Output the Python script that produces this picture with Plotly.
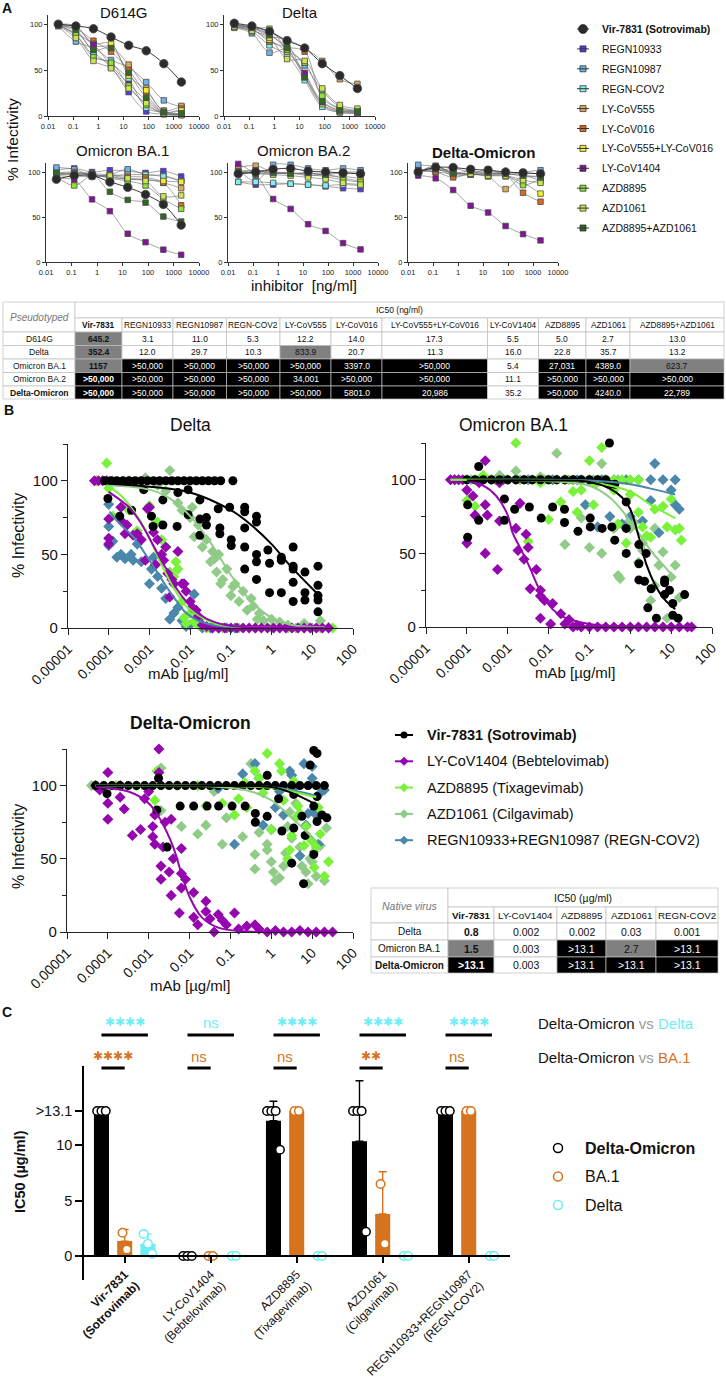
import numpy as np
import plotly.graph_objects as go

W, H = 726, 1387
SANS = "Liberation Sans, Arial, sans-serif"

# ---------------- panel A: pseudotyped virus, % infectivity ----------------
conc_ng = [0.0256, 0.128, 0.64, 3.2, 16, 80, 400, 2000]
a_names = ["Vir-7831 (Sotrovimab)", "REGN10933", "REGN10987", "REGN-COV2", "LY-CoV555",
           "LY-CoV016", "LY-CoV555+LY-CoV016", "LY-CoV1404", "AZD8895", "AZD1061",
           "AZD8895+AZD1061"]
a_colors = ["#2b2b2b", "#5438e4", "#70b2ee", "#7ff0ee", "#d9ab55", "#dc681f", "#f3ee2c",
            "#86119c", "#8be52c", "#cbe64c", "#2e6a1f"]
a_titles = ["D614G", "Delta", "Omicron BA.1", "Omicron BA.2", "<b>Delta-Omicron</b>"]

a_d614g = [[100, 98, 95, 86, 77, 71, 57, 37],
           [99, 92, 70, 53, 26, 5, 2, 1],
           [98, 81, 74, 61, 53, 37, 17, 10],
           [99, 88, 66, 57, 40, 9, 4, 2],
           [100, 98, 77, 75, 56, 30, 6, 11],
           [99, 95, 82, 70, 50, 24, 4, 8],
           [99, 97, 79, 79, 44, 28, 5, 6],
           [99, 90, 78, 55, 35, 17, 3, 2],
           [99, 88, 64, 58, 33, 12, 3, 2],
           [98, 85, 60, 52, 30, 14, 2, 1],
           [99, 94, 72, 74, 47, 20, 4, 3]]
a_delta = [[101, 98, 92, 82, 74, 57, 44, 30],
           [100, 97, 91, 79, 43, 12, 4, 3],
           [96, 90, 69, 73, 55, 28, 10, 6],
           [97, 92, 77, 66, 39, 10, 4, 3],
           [99, 96, 87, 83, 74, 60, 40, 35],
           [99, 95, 81, 75, 70, 20, 8, 5],
           [98, 94, 83, 70, 45, 13, 5, 4],
           [99, 96, 89, 72, 47, 15, 6, 4],
           [98, 95, 95, 72, 58, 22, 8, 6],
           [97, 93, 85, 62, 60, 30, 12, 8],
           [99, 96, 88, 74, 42, 16, 6, 5]]
a_ba1 = [[92, 96, 96, 89, 83, 75, 64, 41],
         [102, 104, 100, 102, 101, 99, 101, 95],
         [105, 103, 96, 97, 103, 97, 96, 90],
         [96, 95, 95, 96, 97, 97, 95, 90],
         [99, 100, 97, 95, 92, 92, 88, 82],
         [98, 99, 98, 97, 95, 94, 88, 63],
         [97, 98, 97, 94, 92, 91, 90, 89],
         [93, 91, 69.6, 56.5, 31.4, 22, 13.7, 8],
         [95, 85, 96, 93, 90, 85, 70, 59],
         [97, 97, 95, 96, 93, 90, 73, 74],
         [99, 98, 98, 78, 69, 66, 50.5, 45]]
a_ba2 = [[98, 100, 103, 104, 101, 100, 99, 98],
         [89, 86, 86, 87, 86, 84, 82, 81],
         [103, 90, 108, 108, 104, 102, 104, 102],
         [89, 89, 88, 87, 86, 85, 86, 85],
         [105, 107, 100, 99, 96, 97, 93, 90],
         [101, 102, 100, 99, 98, 98, 100, 100],
         [100, 101, 99, 98, 99, 96, 95, 93],
         [109, 97, 70, 59, 42, 34.5, 21, 14],
         [100, 99, 98, 99, 97, 95, 91, 89],
         [99, 98, 97, 96, 94, 92, 88, 86],
         [99, 100, 99, 98, 99, 97, 99, 98]]
a_delta_omicron = [[100, 105, 105, 103, 102, 100, 99, 98],
                   [104, 101, 104, 100, 100, 99, 99, 98],
                   [108, 106, 100, 98, 103, 97, 100, 102],
                   [101, 100, 98, 97, 98, 98, 96, 95],
                   [100, 104, 96, 97, 95, 81, 95, 90],
                   [102, 100, 94, 98, 97, 96, 77, 67],
                   [100, 103, 99, 98, 96, 95, 88, 76],
                   [96, 93, 80, 62.5, 55, 40, 31, 24],
                   [99, 107, 98, 99, 98, 97, 85.5, 93],
                   [100, 106, 99, 98, 96, 96, 91, 88],
                   [101, 104, 99, 101, 99, 98, 96, 94]]

# IC50 table (ng/ml)
ta_cols = ["Vir-7831", "REGN10933", "REGN10987", "REGN-COV2", "LY-CoV555", "LY-CoV016",
           "LY-CoV555+LY-CoV016", "LY-CoV1404", "AZD8895", "AZD1061", "AZD8895+AZD1061"]
ta_rows = ["D614G", "Delta", "Omicron BA.1", "Omicron BA.2", "Delta-Omicron"]
ta_vals = [["645.2", "3.1", "11.0", "5.3", "12.2", "14.0", "17.3", "5.5", "5.0", "2.7", "13.0"],
           ["352.4", "12.0", "29.7", "10.3", "833.9", "20.7", "11.3", "16.0", "22.8", "35.7", "13.2"],
           ["1157", ">50,000", ">50,000", ">50,000", ">50,000", "3397.0", ">50,000", "5.4", "27,031", "4389.0", "623.7"],
           [">50,000", ">50,000", ">50,000", ">50,000", "34,001", ">50,000", ">50,000", "11.1", ">50,000", ">50,000", ">50,000"],
           [">50,000", ">50,000", ">50,000", ">50,000", ">50,000", "5801.0", "20,986", "35.2", ">50,000", "4240.0", "22,789"]]

# ---------------- panel B: native virus, (log10 conc ug/ml, % infectivity) ----------------
b_names = ["Vir-7831 (Sotrovimab)", "LY-CoV1404 (Bebtelovimab)", "AZD8895 (Tixagevimab)",
           "AZD1061 (Cilgavimab)", "REGN10933+REGN10987 (REGN-COV2)"]
b_colors = ["#000000", "#9406ae", "#79f23a", "#90cb88", "#4a87ab"]

bd_vir = [(-4.1, 100), (-3.95, 100), (-3.8, 100), (-3.65, 100), (-3.5, 100), (-3.35, 100), (-3.2, 100),
          (-3.05, 100), (-2.9, 100), (-2.75, 100), (-2.6, 100), (-2.45, 100), (-2.3, 100), (-2.15, 100),
          (-2.0, 100), (-1.85, 100), (-1.7, 100), (-1.55, 100), (-1.4, 100), (-1.25, 100), (-0.95, 100),
          (-4.02, 88), (-3.73, 76), (-3.44, 80), (-3.14, 94), (-2.95, 76), (-2.91, 69), (-2.67, 70),
          (-2.67, 87), (-2.32, 69), (-2.3, 92), (-2.05, 94), (-2.05, 77), (-1.76, 87), (-1.76, 74),
          (-1.76, 63), (-1.6, 75), (-1.6, 70), (-1.31, 81), (-1.27, 68), (-1.27, 64), (-1.03, 82),
          (-0.99, 56), (-0.99, 60), (-0.66, 82), (-0.66, 79), (-0.66, 68), (-0.66, 55), (-0.66, 40),
          (-0.37, 76), (-0.37, 72), (-0.37, 50), (-0.37, 45), (-0.37, 33), (-0.09, 53), (-0.05, 44),
          (-0.05, 24), (0.24, 48), (0.24, 46), (0.24, 24), (0.53, 55), (0.53, 42), (0.53, 40),
          (0.53, 31), (0.53, 18), (0.82, 38), (0.82, 19), (0.82, 24), (1.14, 42), (1.14, 29),
          (1.14, 22), (1.14, 19), (1.14, 11)]
bd_1404 = [(-4.35, 100), (-4.25, 100), (-4.15, 100), (-4.05, 100), (-4.0, 61), (-4.0, 57), (-4.0, 74),
           (-3.7, 73), (-3.7, 82), (-3.6, 64), (-3.55, 70), (-3.4, 63), (-3.3, 64), (-3.2, 60),
           (-3.1, 46), (-3.05, 81), (-3.0, 82), (-2.9, 65), (-2.85, 43), (-2.8, 60), (-2.7, 50),
           (-2.65, 46), (-2.6, 55), (-2.55, 37), (-2.5, 21), (-2.45, 33), (-2.4, 30), (-2.3, 52),
           (-2.2, 30), (-2.15, 30), (-2.1, 25), (-2.0, 18), (-1.95, 14), (-1.85, 12), (-1.8, 8),
           (-1.7, 2), (-1.6, 1), (-1.45, 0), (-1.3, 0), (-1.15, 0), (-1.0, 0), (-0.85, 0), (-0.7, 0),
           (-0.55, 0), (-0.4, 0), (-0.25, 0), (-0.1, 0), (0.05, 0), (0.2, 0), (0.35, 0), (0.5, 0),
           (0.65, 0), (0.8, 0), (0.95, 0), (1.1, 0), (1.25, 0), (1.4, 0)]
bd_8895 = [(-4.3, 100), (-4.05, 112), (-4.0, 95), (-3.9, 76), (-3.7, 82), (-3.5, 80), (-3.3, 66),
           (-3.0, 83), (-2.9, 70), (-2.8, 72), (-2.7, 60), (-2.6, 55), (-2.5, 38), (-2.4, 35),
           (-2.35, 45), (-2.3, 40), (-2.2, 18), (-2.15, 7), (-2.1, 3), (-2.0, 10), (-1.9, 4),
           (-1.8, 2), (-1.6, 0), (-1.2, 0), (-0.8, 0), (-0.4, 0), (0.0, 0), (0.4, 0), (0.8, 0),
           (1.2, 0), (1.5, 0)]
bd_1061 = [(-4.3, 100), (-3.9, 100), (-3.5, 100), (-3.1, 102), (-2.8, 97), (-2.6, 93), (-2.5, 107),
           (-2.3, 85), (-2.2, 80), (-2.0, 75), (-1.95, 82), (-1.9, 62), (-1.8, 70), (-1.7, 55),
           (-1.6, 60), (-1.5, 45), (-1.45, 52), (-1.4, 47), (-1.35, 38), (-1.3, 50), (-1.25, 30),
           (-1.2, 33), (-1.1, 40), (-1.0, 22), (-0.95, 28), (-0.9, 30), (-0.8, 18), (-0.7, 25),
           (-0.6, 12), (-0.5, 20), (-0.45, 15), (-0.35, 6), (-0.3, 10), (-0.2, 5), (0.0, 6),
           (0.2, 4), (0.4, 2), (0.6, 0), (0.8, 3), (1.0, 0), (1.2, 5), (1.4, 0.5)]
bd_regn = [(-4.0, 84), (-4.0, 69), (-4.0, 56), (-3.9, 59), (-3.8, 48), (-3.7, 50), (-3.6, 47),
           (-3.45, 50), (-3.4, 46), (-3.3, 57), (-3.2, 45), (-3.0, 30), (-2.95, 40), (-2.9, 48),
           (-2.8, 35), (-2.7, 27), (-2.6, 20), (-2.5, 6), (-2.4, 10), (-2.3, 14), (-2.2, 5),
           (-2.1, 1), (-2.0, 2), (-1.9, 23), (-1.8, 6), (-1.7, 0), (-1.5, 0), (-1.3, 0), (-1.1, 0),
           (-0.9, 0)]
cd_vir = [(-4.0, 98), (-3.0, 96), (-2.0, 92), (-1.0, 80), (-0.5, 70), (0.0, 57), (0.5, 41), (1.1, 24)]
cd_1404 = [(-4.0, 92.5), (-3.5, 82), (-3.25, 73), (-3.0, 61), (-2.75, 48), (-2.5, 36), (-2.34, 27),
           (-2.0, 15), (-1.76, 9), (-1.4, 4), (-1.0, 1.4), (-0.5, 0.5), (0.5, 0.2), (1.3, 0.1)]
cd_8895 = [(-4.06, 97), (-3.7, 90), (-3.4, 80), (-3.1, 67), (-2.9, 55), (-2.65, 40), (-2.42, 28),
           (-2.1, 15), (-1.76, 8), (-1.4, 3), (-0.95, 1), (0.0, 0.2), (1.3, 0.1)]
cd_1061 = [(-4.0, 97), (-3.0, 94), (-2.5, 88), (-2.0, 76), (-1.5, 58), (-1.0, 36), (-0.5, 18),
           (0.0, 7), (0.5, 2), (1.3, 0.5)]
cd_regn = [(-3.98, 79), (-3.7, 70), (-3.4, 62), (-3.0, 46), (-2.58, 28), (-2.3, 17), (-2.09, 10),
           (-1.8, 5), (-1.44, 2), (-1.0, 0.7), (-0.5, 0.3)]

bb_vir = [(-4.0, 100), (-3.8, 100), (-3.6, 100), (-3.4, 100), (-3.2, 100), (-3.0, 100), (-2.8, 100),
          (-2.6, 100), (-2.4, 100), (-2.2, 100), (-2.0, 100), (-1.8, 100), (-1.6, 100), (-1.4, 100),
          (-1.2, 100), (-1.0, 100), (-0.8, 100), (-0.6, 100),
          (-3.98, 61), (-3.98, 83), (-3.71, 109), (-3.71, 72.5), (-3.08, 87), (-3.08, 72.5),
          (-2.83, 80), (-2.47, 81.5), (-2.18, 74), (-1.9, 81.5), (-1.61, 80), (-1.61, 71),
          (-1.28, 65), (-0.98, 74), (-0.98, 68), (-0.85, 130), (-0.69, 67), (-0.51, 125),
          (-0.51, 97), (-0.38, 97), (-0.45, 68), (-0.38, 59), (-0.1, 85), (-0.1, 67), (-0.1, 50),
          (0.21, 56), (0.21, 43), (0.21, 32), (0.35, 31), (0.39, 50), (0.51, 26), (0.43, 13),
          (0.64, 6), (0.84, 32), (0.84, 30), (0.84, 22), (0.96, 25), (1.04, 16), (1.04, 8),
          (1.17, 6), (1.33, 22)]
bb_1404 = [(-4.4, 100), (-4.3, 100), (-4.2, 100), (-4.1, 100), (-4.0, 57), (-4.0, 93), (-3.85, 89),
           (-3.8, 76), (-3.7, 98), (-3.55, 83), (-3.55, 113), (-3.55, 50), (-3.5, 76), (-3.25, 39),
           (-3.2, 98), (-3.2, 72), (-2.8, 67), (-2.75, 52), (-2.7, 84), (-2.6, 46), (-2.55, 63),
           (-2.5, 54), (-2.45, 26), (-2.3, 39), (-2.2, 21), (-2.2, 25), (-2.2, 6), (-2.1, 18),
           (-1.95, 2), (-1.9, 16), (-1.7, 9), (-1.6, 2), (-1.5, 5), (-1.3, 1), (-1.4, 0), (-1.2, 0),
           (-1.0, 0), (-0.8, 0), (-0.6, 0), (-0.4, 0), (-0.2, 0), (0.0, 0), (0.2, 0), (0.4, 0),
           (0.6, 0), (0.8, 0), (1.0, 0), (1.2, 0), (1.4, 0), (1.5, 0)]
bb_8895 = [(-4.4, 100), (-4.2, 100), (-4.0, 100), (-3.8, 100), (-3.6, 100), (-3.4, 100), (-3.2, 100),
           (-3.0, 100), (-2.8, 100), (-2.6, 100), (-2.4, 100), (-2.2, 100), (-2.0, 100), (-1.8, 100),
           (-1.6, 100), (-1.4, 100), (-1.2, 100), (-1.0, 100), (-0.8, 100), (-0.6, 100), (-0.4, 100),
           (-0.2, 100), (0.0, 100), (0.2, 100),
           (-4.0, 86), (-3.8, 82), (-3.6, 103), (-2.8, 125), (-2.5, 58), (-2.2, 98), (-2.0, 73),
           (-1.7, 85), (-1.4, 92), (-1.3, 78), (-1.2, 93), (-1.0, 113), (-0.9, 83), (-0.85, 97),
           (-0.7, 122), (-0.4, 93), (-0.3, 70), (-0.1, 57), (0.0, 90), (0.2, 78), (0.3, 68),
           (0.4, 62), (0.5, 61), (0.6, 80), (0.8, 82), (0.9, 68), (1.0, 87), (1.1, 66), (1.2, 67),
           (1.25, 59)]
bb_1061 = [(-4.2, 100), (-3.9, 100), (-3.6, 100), (-3.3, 100), (-3.0, 100), (-2.7, 100), (-2.4, 100),
           (-2.1, 100), (-1.8, 100), (-1.5, 100), (-1.2, 100), (-0.9, 100), (-0.6, 100), (-0.3, 100),
           (-3.2, 103), (-2.8, 106), (-2.2, 102), (-1.8, 118), (-1.6, 56), (-1.2, 74), (-1.0, 54),
           (-0.7, 111), (-0.7, 50), (-0.4, 67), (-0.3, 35), (-0.25, 33), (-0.1, 70), (0.0, 67),
           (0.1, 71), (0.2, 44), (0.3, 52), (0.3, 57), (0.5, 18), (0.6, 67), (0.6, 28), (0.7, 42),
           (0.8, 51), (0.9, 6), (1.0, 34), (1.1, 42), (1.2, 20)]
bb_regn = [(-4.3, 100), (-4.0, 100), (-3.7, 100), (-3.4, 100), (-3.1, 100), (-2.8, 100), (-2.5, 100),
           (-2.2, 100), (-1.9, 100), (-1.6, 100), (-1.3, 100), (-1.0, 100), (-0.7, 100), (-0.4, 100),
           (-0.1, 100), (0.2, 100), (0.5, 100), (0.8, 100), (1.1, 100),
           (-1.1, 83), (-0.8, 68), (-0.5, 75), (-0.2, 70), (0.0, 75), (0.3, 72), (0.5, 86),
           (0.6, 111), (0.7, 64), (1.0, 93), (1.1, 83), (1.2, 80)]
cb_vir = [(-4.0, 99.5), (-2.0, 99.5), (-1.0, 98.5), (-0.5, 94), (-0.2, 88), (0.0, 80), (0.2, 62),
          (0.4, 42), (0.6, 29), (0.8, 20), (1.1, 12)]
cb_1404 = [(-4.0, 99), (-3.6, 96), (-3.28, 89), (-3.0, 76), (-2.88, 64), (-2.7, 54), (-2.47, 41),
           (-2.3, 30), (-2.14, 21), (-1.9, 12), (-1.65, 7), (-1.2, 3), (-0.83, 1.4), (0.0, 0.3),
           (1.1, 0.1)]
cb_8895 = [(-4.4, 100), (-2.0, 99.5), (-1.0, 98.5), (0.0, 92), (0.5, 83), (1.1, 74)]
cb_1061 = [(-4.4, 100), (-2.0, 99), (-1.0, 96), (-0.5, 88), (0.0, 72), (0.5, 52), (1.1, 33)]
cb_regn = [(-4.3, 100), (-1.0, 99.5), (0.0, 97), (0.5, 94), (1.1, 90)]

bo_vir = [(-4.3, 100), (-4.1, 100), (-3.9, 100), (-3.7, 100), (-3.5, 100), (-3.3, 100), (-3.1, 100),
          (-2.9, 100), (-2.7, 100), (-2.5, 100), (-2.3, 100), (-2.1, 100), (-1.9, 100), (-1.7, 100),
          (-1.5, 100), (-1.3, 100), (-1.1, 100), (-0.9, 100), (-0.7, 100), (-0.5, 100), (-0.3, 100),
          (-0.1, 100), (0.1, 100), (0.3, 100), (0.5, 100), (0.7, 100), (0.9, 100), (1.1, 100),
          (1.3, 100),
          (-4.02, 94.5), (-2.8, 83.4), (-2.76, 105), (-2.55, 58), (-2.23, 86), (-1.9, 86),
          (-1.57, 86), (-1.29, 86), (-0.96, 86), (-0.64, 86), (-0.1, 107), (-0.39, 81), (-0.39, 75),
          (-0.1, 79), (0.18, 91), (0.26, 69), (0.55, 94), (0.55, 71), (0.5, 47), (0.75, 79),
          (0.83, 66), (0.79, 33), (0.95, 114), (1.04, 124), (1.12, 122), (1.04, 86), (1.04, 53),
          (1.12, 92.5), (1.12, 75.5), (1.24, 80), (1.36, 78)]
bo_1404 = [(-4.3, 100), (-4.2, 97), (-4.0, 109), (-4.0, 88), (-4.0, 77), (-3.7, 100), (-3.6, 84),
           (-3.7, 92), (-3.4, 66), (-3.2, 70), (-3.1, 91), (-3.0, 96), (-2.9, 72), (-2.9, 65),
           (-2.85, 60), (-2.85, 80), (-2.75, 125), (-2.75, 109), (-2.7, 45), (-2.7, 36),
           (-2.65, 58), (-2.6, 75), (-2.5, 41), (-2.45, 77), (-2.45, 25), (-2.4, 50), (-2.2, 57),
           (-2.2, 40), (-2.2, 30), (-2.25, 13), (-2.1, 36), (-1.9, 27), (-1.9, 10), (-1.8, 5),
           (-1.6, 21), (-1.6, 14), (-1.5, 9), (-1.4, 0), (-1.3, 12), (-1.2, 8), (-1.1, 5),
           (-0.9, 13), (-0.8, 2), (-0.6, 4), (-0.4, 5), (-0.3, 2), (-0.1, 0), (0.1, 1), (0.3, 0),
           (0.5, 0), (0.7, 1), (0.9, 0), (1.1, 0), (1.3, 0), (1.5, 0)]
bo_8895 = [(-4.3, 100), (-3.8, 100), (-3.3, 100), (-2.85, 90), (-2.8, 110), (-2.3, 100), (-1.8, 100),
           (-1.6, 86), (-1.2, 88), (-0.9, 80), (-0.8, 91), (-0.65, 102), (-0.6, 85), (-0.4, 110),
           (-0.3, 105), (-0.2, 95), (-0.1, 122), (0.0, 70), (0.2, 115), (0.25, 110), (0.3, 90),
           (0.4, 50), (0.45, 56), (0.5, 66), (0.55, 103), (0.6, 78), (0.65, 86), (0.7, 81),
           (0.8, 59), (0.85, 72), (0.9, 65), (1.0, 62), (1.05, 44), (1.1, 58), (1.15, 85),
           (1.2, 67), (1.3, 38), (1.4, 48)]
bo_1061 = [(-4.4, 100), (-2.7, 112), (-2.7, 83), (-2.2, 72), (-1.8, 67), (-1.6, 73), (-1.4, 96),
           (-1.2, 60), (-1.1, 78), (-0.7, 128), (-0.7, 65), (-0.5, 115), (-0.4, 53), (-0.4, 43),
           (-0.3, 68), (-0.1, 60), (-0.1, 56), (0.0, 48), (0.05, 41), (0.1, 35), (0.2, 37),
           (0.3, 45), (0.35, 54), (0.4, 72), (0.45, 82), (0.5, 64), (0.6, 88), (0.7, 58), (0.75, 45),
           (0.85, 41), (0.9, 33), (0.95, 50), (1.0, 48), (1.05, 55), (1.1, 38), (1.2, 59),
           (1.3, 35), (1.35, 71)]
bo_regn = [(-1.3, 98), (-0.9, 60), (-0.7, 108), (-0.4, 115), (-0.3, 105), (-0.2, 73), (0.0, 70),
           (0.1, 85), (0.2, 96), (0.3, 80), (0.45, 110), (0.5, 107), (0.6, 100), (0.7, 52),
           (0.75, 128), (0.8, 115), (0.85, 73), (0.9, 81), (1.0, 113), (1.0, 105), (1.05, 83),
           (1.1, 80), (1.15, 60), (1.2, 95), (1.3, 97)]
co_vir = [(-4.3, 100), (-1.0, 99.8), (0.0, 99), (0.5, 95), (1.1, 87)]
co_1404 = [(-4.3, 99), (-3.5, 96), (-3.0, 88), (-2.7, 76), (-2.4, 58), (-2.2, 40), (-2.0, 24),
           (-1.7, 10), (-1.3, 3), (-0.7, 0.5), (1.5, 0.1)]
co_8895 = [(-4.3, 100), (-1.0, 99.7), (0.0, 98.5), (0.5, 96), (1.1, 92)]
co_1061 = [(-4.3, 100), (-1.5, 99.5), (-0.5, 96), (0.0, 90), (0.5, 78), (1.1, 62)]
co_regn = [(-4.3, 100), (-1.0, 99.8), (0.0, 99), (0.5, 97), (1.1, 93)]

b_points = [[bd_vir, bd_1404, bd_8895, bd_1061, bd_regn],
            [bb_vir, bb_1404, bb_8895, bb_1061, bb_regn],
            [bo_vir, bo_1404, bo_8895, bo_1061, bo_regn]]
b_curves = [[cd_vir, cd_1404, cd_8895, cd_1061, cd_regn],
            [cb_vir, cb_1404, cb_8895, cb_1061, cb_regn],
            [co_vir, co_1404, co_8895, co_1061, co_regn]]
b_titles = ["Delta", "Omicron BA.1", "<b>Delta-Omicron</b>"]

tb_cols = ["Vir-7831", "LY-CoV1404", "AZD8895", "AZD1061", "REGN-COV2"]
tb_rows = ["Delta", "Omicron BA.1", "Delta-Omicron"]
tb_vals = [["0.8", "0.002", "0.002", "0.03", "0.001"],
           ["1.5", "0.003", ">13.1", "2.7", ">13.1"],
           [">13.1", "0.003", ">13.1", ">13.1", ">13.1"]]

# ---------------- panel C: IC50 (ug/ml) per replicate ----------------
c_labels = ["<b>Vir-7831<br>(Sotrovimab)</b>", "LY-CoV1404<br>(Bebtelovimab)",
            "AZD8895<br>(Tixagevimab)", "AZD1061<br>(Cilgavimab)",
            "REGN10933+REGN10987<br>(REGN-COV2)"]
c_do = [[13.1, 13.1, 13.1], [0, 0, 0], [13.1, 13.1, 13.1, 9.6], [13.1, 13.1, 13.1, 2.2], [13.1, 13.1, 13.1]]
c_ba1 = [[2.1, 0.6], [0, 0], [13.1, 13.1], [6.5, 1.1], [13.1, 13.1]]
c_delta = [[2.0, 1.1, 0.2], [0, 0], [0, 0], [0, 0], [0, 0]]
c_sig_delta = ["✱✱✱✱", "ns", "✱✱✱✱", "✱✱✱✱", "✱✱✱✱"]
c_sig_ba1 = ["✱✱✱✱", "ns", "ns", "✱✱", "ns"]
c_series = ["Delta-Omicron", "BA.1", "Delta"]
c_colors = ["#000000", "#d6731f", "#6eeef4"]

# ---------------- helpers ----------------
fig = go.Figure()
lay = dict(template="none", width=W, height=H, margin=dict(l=0, r=0, t=0, b=0, pad=0),
           paper_bgcolor="white", plot_bgcolor="rgba(0,0,0,0)", showlegend=False, barmode="overlay",
           font=dict(family=SANS, color="#111"))
ann, shp = [], []


def keys(n):
    s = "" if n == 1 else str(n)
    return "xaxis" + s, "yaxis" + s, "x" + s, "y" + s


def xdom(x0, x1):
    return [x0 / W, x1 / W]


def ydom(y0, y1):
    return [1 - y1 / H, 1 - y0 / H]


def text(x, y, s, size=10, color="#111", family=SANS, xanchor="center", angle=0):
    ann.append(dict(x=x, y=y, xref="x20", yref="y20", text=s, showarrow=False, textangle=angle,
                    font=dict(size=size, color=color, family=family), xanchor=xanchor, yanchor="middle"))


def rect(x0, y0, x1, y1, fill="white", line="#bdbdbd", lw=0.7):
    shp.append(dict(type="rect", xref="x20", yref="y20", x0=x0, y0=y0, x1=x1, y1=y1,
                    fillcolor=fill, line=dict(color=line, width=lw), layer="above"))


def seg(x0, y0, x1, y1, color="#000", w=1.0):
    shp.append(dict(type="line", xref="x20", yref="y20", x0=x0, y0=y0, x1=x1, y1=y1,
                    line=dict(color=color, width=w), layer="above"))


# overlay axes in page pixels, used for legends, tables and labels
lay["xaxis20"] = dict(domain=[0, 1], range=[0, W], visible=False, fixedrange=True, anchor="y20",
                      automargin=False)
lay["yaxis20"] = dict(domain=[0, 1], range=[H, 0], visible=False, fixedrange=True, anchor="x20",
                      automargin=False)

# ---------------- panel A ----------------
a_box = [(48, 199, 15, 116), (224, 375, 15, 116), (46, 199, 163, 262), (228, 378, 163, 262), (408, 558, 163, 262)]
a_title_y = [12, 12, 150, 150, 152]
a_data = [a_d614g, a_delta, a_ba1, a_ba2, a_delta_omicron]
for i, (vals, box) in enumerate(zip(a_data, a_box)):
    xk, yk, xr, yr = keys(i + 1)
    lay[xk] = dict(domain=xdom(box[0], box[1]), type="log", range=[-2, 4], anchor=yr, automargin=False,
                   tickvals=[0.01, 0.1, 1, 10, 100, 1000, 10000],
                   ticktext=["0.01", "0.1", "1", "10", "100", "1000", "10000"],
                   ticks="outside", ticklen=3, tickcolor="#333", showline=True, linecolor="#333",
                   linewidth=1, showgrid=False, zeroline=False, tickfont=dict(size=7.5, color="#222"))
    lay[yk] = dict(domain=ydom(box[2], box[3]), range=[0, 110], anchor=xr, tickvals=[0, 50, 100],
                   automargin=False, ticks="outside", ticklen=3, tickcolor="#333", showline=True,
                   linecolor="#333", linewidth=1, showgrid=False, zeroline=False,
                   tickfont=dict(size=7.5, color="#222"))
    for j in list(range(1, len(a_names))) + [0]:
        vir = j == 0
        fig.add_trace(go.Scatter(
            x=conc_ng, y=vals[j], xaxis=xr, yaxis=yr, mode="lines+markers", cliponaxis=False,
            line=dict(color="#222" if vir else "#6a6a6a", width=0.9 if vir else 0.6, shape="spline"),
            marker=dict(symbol="circle" if vir else "square", size=8.5 if vir else 5.5,
                        color=a_colors[j], line=dict(color="#4a4a4a", width=0.8))))
    text((box[0] + box[1]) / 2, a_title_y[i], a_titles[i], size=15)

text(12, 140, "% Infectivity", size=15.5, angle=-90)
text(304, 285, "inhibitor  [ng/ml]", size=15)
text(7, 8, "<b>A</b>", size=14)

# panel A legend
for j, name in enumerate(a_names):
    y = 29 + j * 19.9
    seg(577, y, 589, y, color="#333", w=1)
    fig.add_trace(go.Scatter(x=[583], y=[y], xaxis="x20", yaxis="y20", mode="markers",
                             marker=dict(symbol="circle" if j == 0 else "square", size=9 if j == 0 else 6,
                                         color=a_colors[j], line=dict(color="#333", width=0.8))))
    text(600, y, "<b>%s</b>" % name if j == 0 else name, size=10.5, xanchor="left")

# table A
ta_x = [3, 75, 122, 173, 226.5, 280, 331, 382, 487.5, 538.5, 586, 630, 724]
ta_y = [302, 318, 332, 345.5, 359, 372.5, 386, 399]


def shade_a(s):
    v = float(s.replace(">", "").replace(",", ""))
    if s.startswith(">") or v >= 2000:
        return "#000000", "#ffffff"
    if v >= 300:
        return "#808080", "#111111"
    return "#ffffff", "#111111"


rect(ta_x[0], ta_y[0], ta_x[1], ta_y[2])
text((ta_x[0] + ta_x[1]) / 2, (ta_y[0] + ta_y[2]) / 2, "<i>Pseudotyped</i>", size=10, color="#777")
rect(ta_x[1], ta_y[0], ta_x[-1], ta_y[1])
text((ta_x[1] + ta_x[-1]) / 2, (ta_y[0] + ta_y[1]) / 2, "IC50 (ng/ml)", size=8.5)
for c, col in enumerate(ta_cols):
    rect(ta_x[c + 1], ta_y[1], ta_x[c + 2], ta_y[2])
    text((ta_x[c + 1] + ta_x[c + 2]) / 2, (ta_y[1] + ta_y[2]) / 2,
         "<b>%s</b>" % col if c == 0 else col, size=8.3)
for r, row in enumerate(ta_rows):
    y0, y1 = ta_y[r + 2], ta_y[r + 3]
    rect(ta_x[0], y0, ta_x[1], y1)
    text((ta_x[0] + ta_x[1]) / 2, (y0 + y1) / 2, "<b>%s</b>" % row if r == 4 else row, size=8.5)
    for c, s in enumerate(ta_vals[r]):
        fill, fc = shade_a(s)
        rect(ta_x[c + 1], y0, ta_x[c + 2], y1, fill=fill)
        text((ta_x[c + 1] + ta_x[c + 2]) / 2, (y0 + y1) / 2, "<b>%s</b>" % s if c == 0 else s,
             size=8.5, color=fc)

# ---------------- panel B ----------------
b_box = [(68, 353, 444, 628), (426, 712, 443, 627), (67, 353, 749, 932)]
b_title_xy = [(190, 425), (513, 425), (190, 723)]
b_xtitle_xy = [(188, 673), (575, 672), (190, 985)]
draw_order = [3, 4, 2, 1, 0]
for k, box in enumerate(b_box):
    xk, yk, xr, yr = keys(6 + k)
    lay[xk] = dict(domain=xdom(box[0], box[1]), type="log", range=[-5, 2], anchor=yr, automargin=False,
                   tickvals=[1e-5, 1e-4, 1e-3, 1e-2, 0.1, 1, 10, 100],
                   ticktext=["0.00001", "0.0001", "0.001", "0.01", "0.1", "1", "10", "100"],
                   tickangle=-45, ticks="outside", ticklen=6, tickwidth=1.2, tickcolor="#222",
                   showline=True, linecolor="#222", linewidth=1.3, showgrid=False, zeroline=False,
                   tickfont=dict(size=14, color="#111"))
    lay[yk] = dict(domain=ydom(box[2], box[3]), range=[0, 125], anchor=xr, tickvals=[0, 50, 100],
                   automargin=False, ticks="outside", ticklen=6, tickwidth=1.2, tickcolor="#222",
                   showline=True, linecolor="#222", linewidth=1.3, showgrid=False, zeroline=False,
                   minor=dict(tickvals=[25, 75, 125], ticks="outside", ticklen=4, tickcolor="#222"),
                   tickfont=dict(size=15, color="#111"))
    for j in draw_order:
        pts = np.array(b_points[k][j], dtype=float)
        fig.add_trace(go.Scatter(
            x=10 ** pts[:, 0], y=pts[:, 1], xaxis=xr, yaxis=yr, mode="markers", cliponaxis=False,
            marker=dict(symbol="circle" if j == 0 else "diamond", size=9 if j == 0 else 8.5,
                        color=b_colors[j], line=dict(width=0))))
    for j in draw_order:
        cur = np.array(b_curves[k][j], dtype=float)
        fig.add_trace(go.Scatter(
            x=10 ** cur[:, 0], y=cur[:, 1], xaxis=xr, yaxis=yr, mode="lines",
            line=dict(color=b_colors[j], width=2, shape="spline", smoothing=1.0)))
    text(b_title_xy[k][0], b_title_xy[k][1], b_titles[k], size=17.5)
    text(b_xtitle_xy[k][0], b_xtitle_xy[k][1], "mAb [µg/ml]", size=15)

text(18, 536, "% Infectivity", size=16, angle=-90)
text(18, 847, "% Infectivity", size=16, angle=-90)
text(9, 410, "<b>B</b>", size=14)

# panel B legend
for j, name in enumerate(b_names):
    y = 735 + j * 26.3
    seg(395, y, 413, y, color=b_colors[j], w=2)
    fig.add_trace(go.Scatter(x=[404], y=[y], xaxis="x20", yaxis="y20", mode="markers",
                             marker=dict(symbol="circle" if j == 0 else "diamond", size=7,
                                         color=b_colors[j])))
    text(425, y, "<b>%s</b>" % name if j == 0 else name, size=14.5, xanchor="left")

# table B
tb_x = [371, 448, 494, 557, 606, 656, 718]
tb_y = [888, 907, 923, 940, 957, 973]


def shade_b(s):
    if s.startswith(">"):
        return "#000000", "#ffffff"
    if float(s) >= 1:
        return "#808080", "#111111"
    return "#ffffff", "#111111"


rect(tb_x[0], tb_y[0], tb_x[1], tb_y[2])
text((tb_x[0] + tb_x[1]) / 2, (tb_y[0] + tb_y[2]) / 2, "<i>Native virus</i>", size=10.5, color="#777")
rect(tb_x[1], tb_y[0], tb_x[-1], tb_y[1])
text((tb_x[1] + tb_x[-1]) / 2, (tb_y[0] + tb_y[1]) / 2, "IC50 (µg/ml)", size=10.5)
for c, col in enumerate(tb_cols):
    rect(tb_x[c + 1], tb_y[1], tb_x[c + 2], tb_y[2])
    text((tb_x[c + 1] + tb_x[c + 2]) / 2, (tb_y[1] + tb_y[2]) / 2,
         "<b>%s</b>" % col if c == 0 else col, size=9.8)
for r, row in enumerate(tb_rows):
    y0, y1 = tb_y[r + 2], tb_y[r + 3]
    rect(tb_x[0], y0, tb_x[1], y1)
    text((tb_x[0] + tb_x[1]) / 2, (y0 + y1) / 2, "<b>%s</b>" % row if r == 2 else row, size=10)
    for c, s in enumerate(tb_vals[r]):
        fill, fc = shade_b(s)
        rect(tb_x[c + 1], y0, tb_x[c + 2], y1, fill=fill)
        text((tb_x[c + 1] + tb_x[c + 2]) / 2, (y0 + y1) / 2, "<b>%s</b>" % s if c == 0 else s,
             size=10.5, color=fc)

# ---------------- panel C ----------------
c_px = (84, 510)
c_range = [-0.473, 4.48]
c_zero_y = 1256
lay["xaxis9"] = dict(domain=xdom(*c_px), range=c_range, anchor="free",
                     position=1 - c_zero_y / H, automargin=False,
                     tickvals=list(range(len(c_labels))), ticktext=c_labels,
                     tickangle=-45, ticks="outside", ticklen=6, tickwidth=1.5, tickcolor="#000",
                     showline=True, linecolor="#000", linewidth=1.5, showgrid=False, zeroline=False,
                     tickfont=dict(size=12, color="#111"))
lay["yaxis9"] = dict(domain=ydom(1065.6, 1280.4), range=[-2.2, 17.2], anchor="x9", automargin=False,
                     tickvals=[0, 5, 10, 13.1], ticktext=["0", "5", "10", ">13.1"], ticks="outside",
                     ticklen=7, tickwidth=1.5, tickcolor="#000", showline=True, linecolor="#000",
                     linewidth=1.5, showgrid=False, zeroline=False,
                     tickfont=dict(size=14.5, color="#111"))
offsets = [-0.27, 0.0, 0.27]
for s, (series, color) in enumerate(zip([c_do, c_ba1, c_delta], c_colors)):
    xs = [g + offsets[s] for g in range(len(series))]
    means = [float(np.mean(v)) for v in series]
    sds = [float(np.std(v, ddof=1)) for v in series]
    sds = [d if d > 0 else None for d in sds]
    fig.add_trace(go.Bar(x=xs, y=means, width=0.175, xaxis="x9", yaxis="y9",
                         marker=dict(color=color, line=dict(width=0)),
                         error_y=dict(type="data", symmetric=False, array=sds,
                                      arrayminus=[0] * len(sds), color=color, thickness=1.4, width=4)))
    px_, py_ = [], []
    for g, v in enumerate(series):
        jit = (np.arange(len(v)) - (len(v) - 1) / 2) * 0.05
        px_ += list(g + offsets[s] + jit)
        py_ += list(v)
    fig.add_trace(go.Scatter(x=px_, y=py_, xaxis="x9", yaxis="y9", mode="markers", cliponaxis=False,
                             marker=dict(symbol="circle", size=8.5, color="white",
                                         line=dict(color=color, width=1.5))))


def cx(v):
    return c_px[0] + (v - c_range[0]) / (c_range[1] - c_range[0]) * (c_px[1] - c_px[0])


for g in range(len(c_labels)):
    seg(cx(g - 0.27), 1035, cx(g + 0.27), 1035, w=3)
    seg(cx(g - 0.27), 1068, cx(g), 1068, w=3)
    star1 = "✱" in c_sig_delta[g]
    text(cx(g), 1022, c_sig_delta[g], size=12 if star1 else 15, color=c_colors[2],
         family="DejaVu Sans" if star1 else SANS)
    star2 = "✱" in c_sig_ba1[g]
    text(cx(g - 0.135), 1056, c_sig_ba1[g], size=12 if star2 else 15, color=c_colors[1],
         family="DejaVu Sans" if star2 else SANS)

text(536, 1023, "Delta-Omicron <span style='color:#9a9a9a'>vs</span> "
                "<span style='color:%s'>Delta</span>" % c_colors[2], size=15, xanchor="left")
text(536, 1057, "Delta-Omicron <span style='color:#9a9a9a'>vs</span> "
                "<span style='color:%s'>BA.1</span>" % c_colors[1], size=15, xanchor="left")

for s, name in enumerate(c_series):
    y = 1148 + s * 28.5
    fig.add_trace(go.Scatter(x=[558], y=[y], xaxis="x20", yaxis="y20", mode="markers",
                             marker=dict(symbol="circle", size=9, color="white",
                                         line=dict(color=c_colors[s], width=1.5))))
    text(583, y, "<b>%s</b>" % name if s == 0 else name, size=16, xanchor="left")

text(20, 1172, "<b>IC50 (µg/ml)</b>", size=14.5, angle=-90)
text(7, 1012, "<b>C</b>", size=14)

lay["annotations"] = ann
lay["shapes"] = shp
fig.update_layout(**lay)
# the page body has a default 8px margin; drop it so the figure sits at the page origin
fig.write_html("out.html", config={"displayModeBar": False},
               post_script="document.body.style.margin = '0px';")
